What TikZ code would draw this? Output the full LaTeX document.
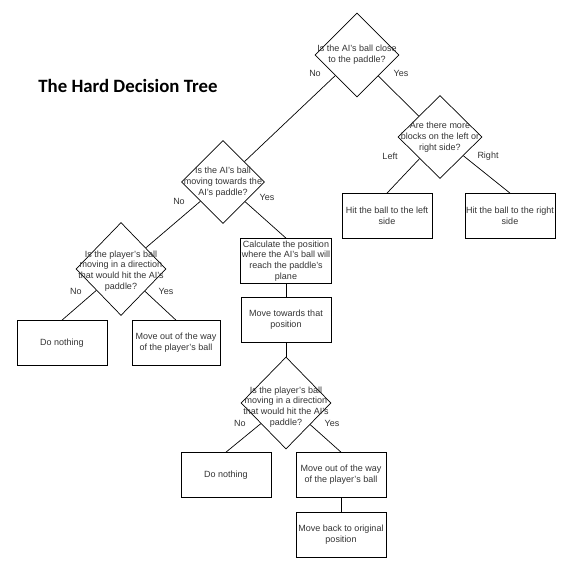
\documentclass[tikz,border=0pt]{standalone}
\usepackage{fontspec}
\setmainfont{Liberation Sans}
\newfontfamily\titlefont{Carlito}
\usetikzlibrary{shapes.geometric, positioning}
\tikzset{
    decision/.style args={#1 #2}{draw, diamond, inner sep=0pt,
        minimum width=#1pt, minimum height=#2pt},
    decision/.default={84 84},
    qtext/.style={align=center, inner sep=0pt, text=black!80,
        font=\fontsize{9}{10.7}\selectfont},
    action/.style={draw, rectangle, inner sep=1pt, align=center, text=black!80,
        minimum width=90pt, minimum height=45pt,
        font=\fontsize{9}{10.7}\selectfont},
    answer/.style={inner sep=0pt, text=black!80, font=\fontsize{9}{10.7}\selectfont},
    link/.style={draw, line width=0.7pt}
}

\begin{document}
\begin{tikzpicture}[x=1pt, y=-1pt, line width=0.7pt]
    \useasboundingbox (0,0) rectangle (573,567);
    \node[inner sep=0pt, font=\titlefont\fontsize{18.8}{22}\selectfont\bfseries] (title) at (128,86) {The Hard Decision Tree};
    % questions
    \node[decision, label={[qtext]center:{Is the AI's ball close\\to the paddle?}}] (close) at (357,55) {};
    \node[decision={84 83}, label={[qtext]center:{Are there more\\blocks on the left or\\right side?}}] (blocks) at (440,137) {};
    \node[decision={83 83}, label={[qtext]center:{Is the AI's ball\\moving towards the\\AI's paddle?}}] (moving) at (223,182) {};
    \node[decision={90 93}, label={[qtext, yshift=-2pt]center:{Is the player's ball\\moving in a direction\\that would hit the AI's\\paddle?}}] (dirA) at (121,269) {};
    \node[decision={90 92}, label={[qtext, yshift=-4pt]center:{Is the player's ball\\moving in a direction\\that would hit the AI's\\paddle?}}] (dirB) at (286,403) {};
    % actions
    \node[action] (hitleft) at (387,216) {Hit the ball to the left\\side};
    \node[action] (hitright) at (510,216) {Hit the ball to the right\\side};
    \node[action] (calc) at (286,261) {Calculate the position\\where the AI's ball will\\reach the paddle's\\plane};
    \node[action] (towards) at (286,320) {Move towards that\\position};
    \node[action] (nothingA) at (62,343) {Do nothing};
    \node[action, minimum width=88pt] (dodgeA) at (176,343) {Move out of the way\\of the player's ball};
    \node[action] (nothingB) at (226,475) {Do nothing};
    \node[action] (dodgeB) at (341,475) {Move out of the way\\of the player's ball};
    \node[action] (back) at (341,535) {Move back to original\\position};
    % links
    \draw[link] (close) -- (moving);
    \draw[link] (close) -- (blocks);
    \draw[link] (blocks) -- (hitleft.north);
    \draw[link] (blocks) -- (hitright.north);
    \draw[link] (moving) -- (dirA);
    \draw[link] (moving) -- (calc.north);
    \draw[link] (dirA) -- (nothingA.north);
    \draw[link] (dirA) -- (dodgeA.north);
    \draw[link] (calc) -- (towards);
    \draw[link] (towards) -- (dirB);
    \draw[link] (dirB) -- (nothingB.north);
    \draw[link] (dirB) -- (dodgeB.north);
    \draw[link] (dodgeB) -- (back);
    % answers
    \node[answer] (noA) at (315,73) {No};
    \node[answer] (yesA) at (401,73) {Yes};
    \node[answer] (left) at (390,156) {Left};
    \node[answer] (right) at (488,156) {Right};
    \node[answer] (noB) at (179,201) {No};
    \node[answer] (yesB) at (267,197) {Yes};
    \node[answer] (noC) at (76,291) {No};
    \node[answer] (yesC) at (166,291) {Yes};
    \node[answer] (noD) at (240,423) {No};
    \node[answer] (yesD) at (332,423) {Yes};
\end{tikzpicture}
\end{document}
